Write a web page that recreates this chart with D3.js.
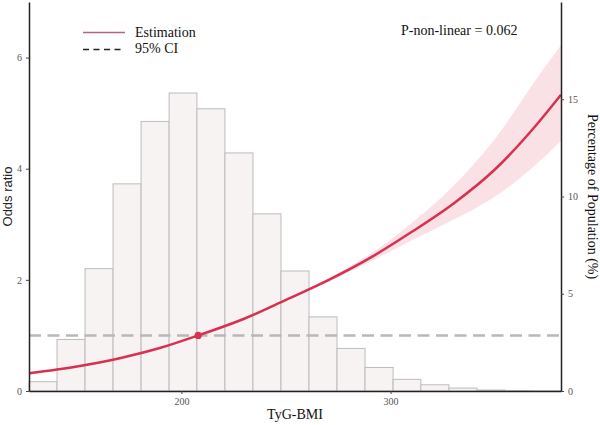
<!DOCTYPE html>
<html><head><meta charset="utf-8">
<script src="https://cdn.jsdelivr.net/npm/d3@7"></script>
<style>body{margin:0;background:#fff}svg{display:block}</style>
</head><body><svg id="c" width="600" height="425"></svg>
<script>
// Histogram bins (TyG-BMI) and percentage of population
const binEdges = [127.1,140.5,153.9,167.3,180.7,194.1,207.4,220.8,234.2,247.6,261.0,274.4,287.8,301.2,314.5,327.9,341.3,354.7,368.1,381.5];
const binPct = [0.48,2.65,6.29,10.65,13.86,15.32,14.51,12.24,9.11,6.17,3.81,2.19,1.21,0.60,0.32,0.15,0.05,0.02,0.01];
// Spline estimate: x, odds ratio, lower/upper 95% CI
const curveX  = [127.1,150,170,190,208,230,250,270,290,310,330,350,370,381.5];
const curveOR = [0.32,0.442,0.586,0.777,1.0,1.30,1.64,1.99,2.39,2.86,3.37,3.99,4.80,5.33];
const curveLo = [0.314,0.437,0.581,0.774,1.0,1.294,1.624,1.955,2.32,2.71,3.08,3.50,4.09,4.50];
const curveHi = [0.326,0.447,0.591,0.780,1.0,1.306,1.656,2.025,2.46,3.02,3.69,4.54,5.63,6.22];
const refX = 208, refOR = 1.0;
const xTicks = [200,300];
const yTicks = [0,2,4,6];
const y2Ticks = [0,5,10,15];

const W=600,H=425,m={l:29,r:39,t:2,b:34};
const svg=d3.select('#c');
const x=d3.scaleLinear().domain([127.1,381.5]).range([m.l,W-m.r]);
const y=d3.scaleLinear().domain([0,7]).range([H-m.b,m.t]);
const y2=d3.scaleLinear().domain([0,20]).range([H-m.b,m.t]);
const serif='"Liberation Serif","Times New Roman",serif';

// bars
svg.append('g').selectAll('rect').data(binPct).join('rect')
  .attr('x',(d,i)=>x(binEdges[i]))
  .attr('width',(d,i)=>x(binEdges[i+1])-x(binEdges[i]))
  .attr('y',d=>y2(d)).attr('height',d=>y2(0)-y2(d))
  .attr('fill','#f7f3f3').attr('stroke','#bcbcbc').attr('stroke-width',1);

const pts=curveX.map((v,i)=>({x:v,or:curveOR[i],lo:curveLo[i],hi:curveHi[i]}));
svg.append('path').datum(pts)
  .attr('d',d3.area().x(d=>x(d.x)).y0(d=>y(d.lo)).y1(d=>y(d.hi)).curve(d3.curveMonotoneX))
  .attr('fill','#f6cdd6').attr('fill-opacity',0.6);

// reference dashed line
svg.append('line').attr('x1',x(127.1)).attr('x2',x(381.5)).attr('y1',y(1)).attr('y2',y(1))
  .attr('stroke','#b8b8b8').attr('stroke-width',2.5).attr('stroke-dasharray','12,6.5');

svg.append('path').datum(pts)
  .attr('d',d3.line().x(d=>x(d.x)).y(d=>y(d.or)).curve(d3.curveMonotoneX))
  .attr('fill','none').attr('stroke','#d8304f').attr('stroke-width',2.5);
svg.append('circle').attr('cx',x(refX)).attr('cy',y(refOR)).attr('r',3.6).attr('fill','#d8304f');

// axes
function styleAxis(g){
  g.selectAll('.domain').attr('stroke','#222').attr('stroke-width',1.5);
  g.selectAll('.tick line').attr('stroke','#444');
  g.selectAll('.tick text').attr('fill','#555').style('font-family',serif).style('font-size','10px');
}
const fmt=d3.format('d');
svg.append('g').attr('transform',`translate(0,${H-m.b})`)
  .call(d3.axisBottom(x).tickValues(xTicks).tickFormat(fmt).tickSize(3).tickSizeOuter(0).tickPadding(4)).call(styleAxis);
svg.append('g').attr('transform',`translate(${m.l},0)`)
  .call(d3.axisLeft(y).tickValues(yTicks).tickFormat(fmt).tickSize(3).tickSizeOuter(0).tickPadding(4)).call(styleAxis);
svg.append('g').attr('transform',`translate(${W-m.r},0)`)
  .call(d3.axisRight(y2).tickValues(y2Ticks).tickFormat(fmt).tickSize(3).tickSizeOuter(0).tickPadding(4)).call(styleAxis);

// titles
svg.append('text').attr('x',(m.l+W-m.r)/2).attr('y',419).attr('text-anchor','middle')
  .style('font-family',serif).style('font-size','14px').attr('fill','#111').text('TyG-BMI');
svg.append('text').attr('transform',`translate(12,${(m.t+H-m.b)/2}) rotate(-90)`).attr('text-anchor','middle')
  .style('font-family','"Liberation Sans",Arial,sans-serif').style('font-size','13px').attr('fill','#222').text('Odds ratio');
svg.append('text').attr('transform',`translate(588,${(m.t+H-m.b)/2}) rotate(90)`).attr('text-anchor','middle')
  .style('font-family',serif).style('font-size','14px').attr('fill','#111').text('Percentage of Population (%)');

// legend
svg.append('line').attr('x1',83).attr('x2',125).attr('y1',32.5).attr('y2',32.5).attr('stroke','#b5647a').attr('stroke-width',1.5);
svg.append('line').attr('x1',83).attr('x2',125).attr('y1',49.5).attr('y2',49.5).attr('stroke','#222').attr('stroke-width',1.5).attr('stroke-dasharray','6,4.5');
svg.append('text').attr('x',135).attr('y',34).attr('dominant-baseline','middle').style('font-family',serif).style('font-size','14px').attr('fill','#111').text('Estimation');
svg.append('text').attr('x',135).attr('y',50).attr('dominant-baseline','middle').style('font-family',serif).style('font-size','14px').attr('fill','#111').text('95% CI');
svg.append('text').attr('x',401).attr('y',32).attr('dominant-baseline','middle').style('font-family',serif).style('font-size','14px').attr('fill','#111').text('P-non-linear = 0.062');
</script></body></html>
